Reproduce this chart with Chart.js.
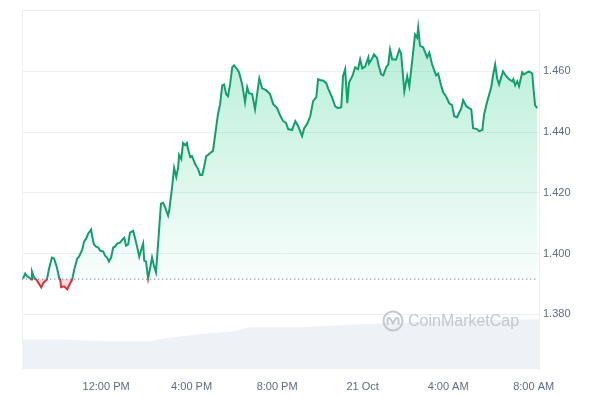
<!DOCTYPE html>
<html>
<head>
<meta charset="utf-8">
<script src="https://cdn.jsdelivr.net/npm/chart.js@4.4.1/dist/chart.umd.min.js"></script>
<style>
  html, body { margin: 0; padding: 0; background: #fff; }
  #wrap { position: relative; width: 600px; height: 397px; }
  #watermark {
    position: absolute; left: 382px; top: 310px;
    display: flex; align-items: center; gap: 4px;
    font-family: 'Liberation Sans', Arial, sans-serif; font-size: 16px;
    color: #c3c8d0; pointer-events: none;
  }
</style>
</head>
<body>
<div id="wrap">
  <canvas id="chart" width="600" height="397"></canvas>
  <div id="watermark">
    <svg width="22" height="22" viewBox="0 0 22 22">
      <circle cx="11" cy="11" r="9.5" fill="none" stroke="#c3c8d0" stroke-width="2"/>
      <path d="M5.5 14 L5.5 9 Q7 6.5 8.5 9 L11 13.5 L13.5 9 Q15 6.5 16.5 9 L16.5 14" fill="none" stroke="#c3c8d0" stroke-width="2" stroke-linecap="round" stroke-linejoin="round"/>
    </svg>
    <span>CoinMarketCap</span>
  </div>
</div>
<script>
// minutes since 8:00 AM (20 Oct) and price
const minutes = [
  7, 13, 18, 24, 30, 32, 38, 44, 58, 63, 74, 80, 88, 94, 102, 108, 111, 114, 122, 131,
  136, 145, 150, 159, 164, 173, 178, 184, 190, 198, 201, 206, 212, 218, 223, 232, 237, 243, 248, 254,
  260, 265, 271, 279, 288, 291, 296, 302, 307, 316, 321, 327, 333, 338, 344, 347, 352, 358, 364, 369,
  375, 380, 386, 394, 400, 406, 414, 417, 425, 431, 437, 442, 445, 451, 456, 462, 467, 470, 476, 481,
  490, 498, 504, 510, 515, 521, 526, 532, 540, 549, 554, 560, 566, 571, 577, 582, 588, 594, 599, 608,
  613, 622, 630, 636, 641, 650, 658, 670, 678, 689, 700, 709, 720, 728, 737, 745, 751, 762, 771, 779,
  790, 796, 804, 813, 821, 830, 835, 844, 849, 858, 863, 874, 883, 891, 900, 905, 911, 917, 922, 931,
  939, 947, 953, 959, 967, 976, 978, 987, 992, 1001, 1004, 1012, 1018, 1026, 1032, 1037, 1043, 1054, 1063, 1068,
  1077, 1085, 1091, 1099, 1107, 1113, 1116, 1121, 1130, 1141, 1147, 1155, 1166, 1172, 1180, 1186, 1194, 1203, 1211, 1217,
  1225, 1237, 1242, 1251, 1259, 1265, 1270, 1281, 1287, 1296, 1301, 1310, 1321, 1326, 1332, 1338, 1343, 1354, 1363, 1371,
  1380, 1383, 1388, 1394, 1399, 1408, 1413, 1422, 1427, 1436, 1439, 1444, 1450,
];
const prices = [
  1.3918, 1.3934, 1.3925, 1.3921, 1.3915, 1.3941, 1.3921, 1.3915, 1.3889, 1.3902, 1.3915, 1.3951, 1.3987, 1.3984, 1.3954, 1.3921, 1.3915, 1.3889, 1.3892, 1.3882,
  1.3895, 1.3915, 1.3944, 1.3984, 1.3990, 1.4013, 1.4039, 1.4049, 1.4066, 1.4079, 1.4056, 1.4030, 1.4023, 1.4020, 1.4010, 1.4007, 1.3993, 1.3987, 1.3974, 1.3987,
  1.4020, 1.4023, 1.4033, 1.4036, 1.4049, 1.4052, 1.4026, 1.4030, 1.4069, 1.4075, 1.4052, 1.4023, 1.3990, 1.4010, 1.4033, 1.3977, 1.3974, 1.3918, 1.3954, 1.3987,
  1.3957, 1.3938, 1.4033, 1.4164, 1.4167, 1.4151, 1.4125, 1.4141, 1.4216, 1.4282, 1.4252, 1.4282, 1.4325, 1.4311, 1.4364, 1.4357, 1.4364, 1.4344, 1.4318, 1.4321,
  1.4295, 1.4279, 1.4259, 1.4259, 1.4285, 1.4321, 1.4325, 1.4331, 1.4338, 1.4416, 1.4459, 1.4492, 1.4554, 1.4557, 1.4525, 1.4518, 1.4557, 1.4613, 1.4620, 1.4607,
  1.4597, 1.4557, 1.4498, 1.4548, 1.4528, 1.4525, 1.4475, 1.4577, 1.4544, 1.4538, 1.4525, 1.4492, 1.4479, 1.4456, 1.4436, 1.4430, 1.4410, 1.4407, 1.4436, 1.4420,
  1.4387, 1.4413, 1.4426, 1.4452, 1.4502, 1.4515, 1.4574, 1.4570, 1.4570, 1.4561, 1.4544, 1.4515, 1.4485, 1.4479, 1.4482, 1.4584, 1.4607, 1.4495, 1.4564, 1.4584,
  1.4613, 1.4607, 1.4639, 1.4610, 1.4616, 1.4646, 1.4626, 1.4643, 1.4656, 1.4643, 1.4623, 1.4590, 1.4587, 1.4613, 1.4623, 1.4672, 1.4639, 1.4639, 1.4672, 1.4659,
  1.4534, 1.4584, 1.4551, 1.4633, 1.4721, 1.4711, 1.4744, 1.4685, 1.4679, 1.4646, 1.4662, 1.4623, 1.4587, 1.4593, 1.4554, 1.4531, 1.4518, 1.4495, 1.4489, 1.4452,
  1.4449, 1.4479, 1.4505, 1.4485, 1.4479, 1.4475, 1.4413, 1.4410, 1.4403, 1.4407, 1.4459, 1.4502, 1.4548, 1.4587, 1.4623, 1.4574, 1.4557, 1.4600, 1.4584, 1.4574,
  1.4567, 1.4574, 1.4554, 1.4567, 1.4551, 1.4597, 1.4590, 1.4597, 1.4600, 1.4593, 1.4551, 1.4489, 1.4479,
];

// 24h volume (millions), sampled along the same time axis
const volMinutes = [4, 111, 223, 364, 406, 504, 597, 644, 785, 897, 1023, 1150, 1262, 1455];
const volumes = [20.8, 20.8, 19.4, 19.4, 21.5, 24.3, 26.4, 29.2, 29.2, 30.6, 31.9, 33.3, 34.0, 34.7];

const baseline = 1.3916; // opening price (dotted line)

const tickMinutes = [240, 480, 720, 960, 1200, 1440];
const tickLabels = ['12:00 PM', '4:00 PM', '8:00 PM', '21 Oct', '4:00 AM', '8:00 AM'];
const priceTicks = [1.38, 1.40, 1.42, 1.44, 1.46, 1.48];

const GREEN = '#119f6b';
const RED = '#d8323c';
const GRID = '#eceff3';
const TEXT = '#5f6b80';
const FONT = { family: "'Liberation Sans', Arial, sans-serif", size: 11 };

// 線は基準線より上を緑、下を赤で描く
function strokeColor(ctx) {
  const { chart } = ctx;
  const area = chart.chartArea;
  if (!area) return GREEN;
  const y = chart.scales.y.getPixelForValue(baseline);
  const stop = Math.min(Math.max((y - area.top) / (area.bottom - area.top), 0), 1);
  const g = chart.ctx.createLinearGradient(0, area.top, 0, area.bottom);
  g.addColorStop(0, GREEN);
  g.addColorStop(stop, GREEN);
  g.addColorStop(stop, RED);
  g.addColorStop(1, RED);
  return g;
}

function fillColor(ctx) {
  const { chart } = ctx;
  const area = chart.chartArea;
  if (!area) return 'rgba(22,199,132,0.2)';
  const top = chart.scales.y.getPixelForValue(1.47);
  const bottom = chart.scales.y.getPixelForValue(baseline);
  const g = chart.ctx.createLinearGradient(0, top, 0, bottom);
  g.addColorStop(0, 'rgba(22,199,132,0.30)');
  g.addColorStop(1, 'rgba(22,199,132,0.03)');
  return g;
}

new Chart(document.getElementById('chart'), {
  type: 'line',
  data: {
    datasets: [
      {
        label: 'Price',
        data: minutes.map((m, i) => ({ x: m, y: prices[i] })),
        borderColor: strokeColor,
        backgroundColor: fillColor,
        borderWidth: 2,
        pointRadius: 0,
        tension: 0,
        fill: { target: { value: baseline }, below: 'rgba(234,57,67,0.18)' },
        yAxisID: 'y',
        order: 0,
      },
      {
        label: 'Open',
        data: [
          { x: minutes[0] - 3, y: baseline },
          { x: minutes[minutes.length - 1], y: baseline },
        ],
        borderColor: '#8f97a3',
        borderWidth: 1.3,
        borderDash: [1.3, 2.7],
        pointRadius: 0,
        fill: false,
        yAxisID: 'y',
        order: 1,
      },
      {
        label: 'Volume',
        data: volMinutes.map((m, i) => ({ x: m, y: volumes[i] })),
        borderWidth: 0,
        borderColor: 'rgba(0,0,0,0)',
        backgroundColor: '#eef1f5',
        pointRadius: 0,
        fill: 'origin',
        yAxisID: 'vol',
        order: 2,
      },
    ],
  },
  options: {
    responsive: false,
    animation: false,
    layout: { padding: { left: 22, top: 9, right: 0, bottom: 0 } },
    plugins: {
      legend: { display: false },
      tooltip: { enabled: false },
    },
    scales: {
      x: {
        type: 'linear',
        min: 4,
        max: 1455,
        grid: { display: false },
        border: { display: false },
        afterBuildTicks: (s) => { s.ticks = tickMinutes.map((v) => ({ value: v })); },
        afterFit: (s) => { s.height = 28; },
        ticks: {
          autoSkip: false,
          maxRotation: 0,
          padding: 3,
          color: TEXT,
          font: FONT,
          callback: (v, i) => tickLabels[i],
        },
      },
      y: {
        position: 'right',
        min: 1.362,
        max: 1.48,
        grid: { color: GRID, drawTicks: false },
        border: { display: true, color: GRID },
        afterBuildTicks: (s) => { s.ticks = priceTicks.map((v) => ({ value: v })); },
        afterFit: (s) => { s.width = 61; },
        ticks: {
          padding: 4,
          color: TEXT,
          font: FONT,
          callback: (v) => (v > 1.479 ? '' : v.toFixed(3)),
        },
      },
      vol: {
        position: 'left',
        min: 0,
        max: 250,
        grid: { display: false },
        border: { display: true, color: GRID },
        ticks: { display: false },
        afterFit: (s) => { s.width = 0; },
      },
    },
  },
});
</script>
</body>
</html>
